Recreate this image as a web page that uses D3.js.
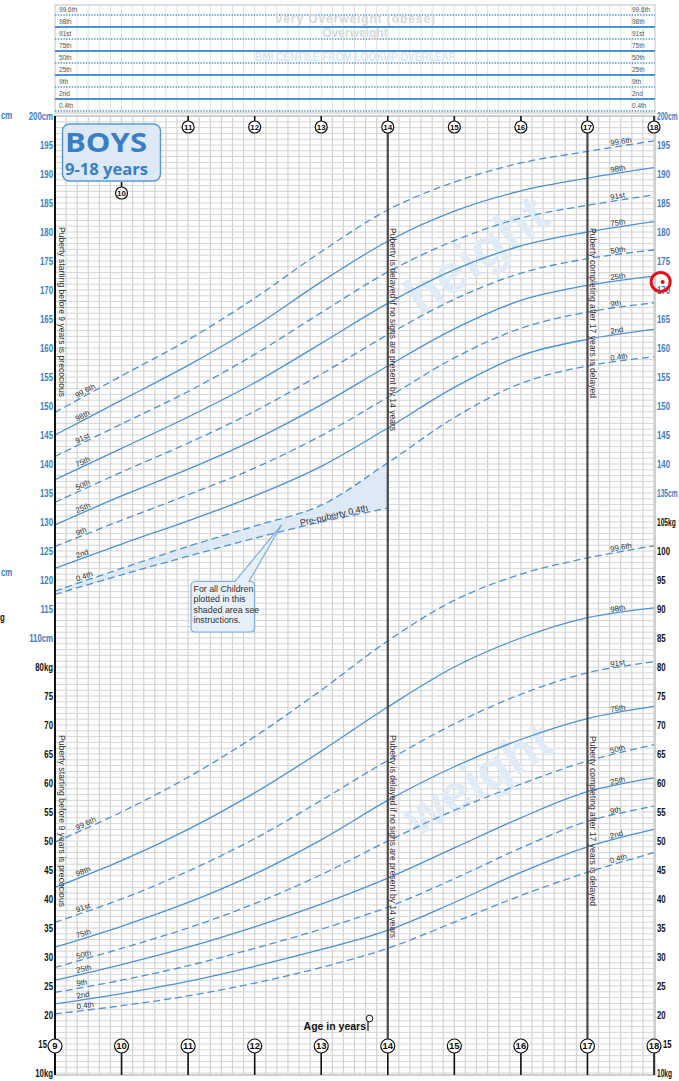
<!DOCTYPE html>
<html>
<head>
<meta charset="utf-8">
<script src="https://cdn.jsdelivr.net/npm/d3@7"></script>
<style>
  body { margin: 0; background: #fff; }
  svg { display: block; font-family: "Liberation Sans", Arial, sans-serif; }
  .ax text { font-family: "Liberation Sans", Arial, sans-serif; font-weight: bold; font-size: 10px; }
</style>
</head>
<body>
<svg id="chart" width="679" height="1081"></svg>
<script>
// ---- data ----
var ages = [9, 10, 11, 12, 13, 14, 15, 16, 17, 18];
var centileNames = ["0.4th", "2nd", "9th", "25th", "50th", "75th", "91st", "98th", "99.6th"];

// height centiles (cm)
var ht_0_4  = [118.1, 122.0, 125.8, 129.3, 132.9, 140.2, 148.0, 153.9, 156.9, 158.5];
var ht_2    = [122.0, 126.2, 130.2, 134.5, 139.6, 146.2, 153.2, 158.7, 161.5, 163.2];
var ht_9    = [125.8, 130.3, 134.7, 139.3, 144.9, 151.5, 158.3, 163.4, 166.2, 167.8];
var ht_25   = [129.5, 134.5, 139.1, 144.2, 150.2, 156.9, 163.3, 168.2, 170.8, 172.4];
var ht_50   = [133.4, 138.6, 143.6, 149.1, 155.5, 162.3, 168.4, 172.9, 175.4, 176.9];
var ht_75   = [137.3, 142.7, 148.1, 154.0, 160.8, 167.7, 173.5, 177.6, 180.0, 181.8];
var ht_91   = [141.3, 146.9, 152.5, 158.9, 166.1, 173.1, 178.5, 182.4, 184.6, 186.4];
var ht_98   = [145.0, 151.0, 157.0, 163.7, 171.4, 178.4, 183.6, 187.1, 189.3, 191.1];
var ht_99_6 = [148.9, 155.2, 161.4, 168.6, 176.6, 183.8, 188.6, 191.9, 193.9, 195.7];

// weight centiles (kg)
var wt_0_4  = [20.2, 21.6, 23.3, 25.5, 28.2, 31.5, 36.0, 40.6, 44.6, 48.0];
var wt_2    = [21.9, 23.7, 25.8, 28.4, 31.3, 34.6, 39.4, 44.6, 49.0, 52.0];
var wt_9    = [23.9, 26.0, 28.5, 31.5, 34.8, 38.6, 43.5, 48.8, 53.4, 56.0];
var wt_25   = [26.0, 28.7, 31.7, 35.2, 39.1, 43.6, 48.8, 54.0, 58.5, 60.9];
var wt_50   = [28.2, 31.5, 35.0, 39.2, 44.2, 50.0, 55.3, 59.8, 63.8, 66.6];
var wt_75   = [31.7, 35.3, 39.4, 44.3, 50.2, 57.0, 62.8, 67.5, 71.1, 73.2];
var wt_91   = [36.0, 40.0, 44.8, 50.4, 57.0, 63.9, 70.2, 75.3, 79.0, 80.9];
var wt_98   = [42.0, 46.6, 52.0, 58.3, 65.5, 73.1, 80.0, 85.0, 88.5, 90.2];
var wt_99_6 = [49.8, 55.0, 61.0, 68.0, 76.0, 84.5, 91.5, 96.0, 98.8, 100.9];

// pre-puberty 0.4th height line
var prePubertyAges = [9, 10, 11, 12, 13, 14];
var prePuberty_0_4 = [117.5, 120.9, 124.1, 127.2, 130.0, 132.4];

// tick labels
var heightTicksLeft  = [110, 115, 120, 125, 130, 135, 140, 145, 150, 155, 160, 165, 170, 175, 180, 185, 190, 195, 200];
var heightTicksRight = [135, 140, 145, 150, 155, 160, 165, 170, 175, 180, 185, 190, 195, 200];
var weightTicksLeft  = [10, 15, 20, 25, 30, 35, 40, 45, 50, 55, 60, 65, 70, 75, 80];
var weightTicksRight = [10, 15, 20, 25, 30, 35, 40, 45, 50, 55, 60, 65, 70, 75, 80, 85, 90, 95, 100, 105];
var topYears = [11, 12, 13, 14, 15, 16, 17, 18];
var bottomYears = [9, 10, 11, 12, 13, 14, 15, 16, 17, 18];

var heightSeries = [ht_0_4, ht_2, ht_9, ht_25, ht_50, ht_75, ht_91, ht_98, ht_99_6];
var weightSeries = [wt_0_4, wt_2, wt_9, wt_25, wt_50, wt_75, wt_91, wt_98, wt_99_6];

// ---- scales ----
var svg = d3.select("#chart");
var x = d3.scaleLinear().domain([9, 18]).range([55, 654]);
var yH = d3.scaleLinear().domain([35, 200]).range([1073, 116]);
var yW = d3.scaleLinear().domain([10, 175]).range([1073, 116]);
var blue = "#4d92d3";
var labBlue = "#3b80c6";

// squeeze text to look like the condensed face on the chart
function condense(sel, k) {
    sel.each(function () {
        var w = this.getComputedTextLength();
        d3.select(this).attr("textLength", w * k).attr("lengthAdjust", "spacingAndGlyphs");
    });
}

// ---- grid ----
var grid = svg.append("g");
grid.selectAll("line.gh").data(d3.range(35, 201)).join("line").attr("class", "gh")
    .attr("x1", 55).attr("x2", 655)
    .attr("y1", d => yH(d)).attr("y2", d => yH(d))
    .attr("stroke", "#d6d6d6").attr("stroke-width", 1);
grid.selectAll("line.gv").data(d3.range(0, 55)).join("line").attr("class", "gv")
    .attr("x1", d => x(9 + d / 6)).attr("x2", d => x(9 + d / 6))
    .attr("y1", 116).attr("y2", 1075)
    .attr("stroke", "#d3d3d3").attr("stroke-width", 1.2);
svg.append("rect").attr("x", 55).attr("y", 116).attr("width", 600).attr("height", 959)
    .attr("fill", "none").attr("stroke", "#cfcfcf").attr("stroke-width", 2);

// ---- BMI strip ----
var strip = svg.append("g");
strip.append("rect").attr("x", 55).attr("y", 5).attr("width", 600).attr("height", 108)
    .attr("fill", "#fff").attr("stroke", "#d6d6d6").attr("stroke-width", 1.5);
strip.selectAll("line.sv").data(d3.range(1, 54)).join("line").attr("class", "sv")
    .attr("x1", d => x(9 + d / 6)).attr("x2", d => x(9 + d / 6))
    .attr("y1", 5).attr("y2", 113)
    .attr("stroke", "#e2e2e2").attr("stroke-width", 1);
var sy = d3.scalePoint().domain(centileNames.slice().reverse()).range([15, 111]);
centileNames.forEach(function (c, i) {
    var solid = i % 2 === 1;
    strip.append("line").attr("x1", 55).attr("x2", 655).attr("y1", sy(c)).attr("y2", sy(c))
        .attr("stroke", blue).attr("stroke-width", solid ? 2 : 1.3)
        .attr("stroke-dasharray", solid ? null : "1.4,1.4");
    strip.append("text").attr("x", 59).attr("y", sy(c) - 3).text(c)
        .attr("font-size", 6.5).attr("fill", "#555");
    strip.append("text").attr("x", 632).attr("y", sy(c) - 3).text(c)
        .attr("font-size", 6.5).attr("fill", "#555");
});
strip.append("text").attr("x", 355).attr("y", 23).attr("text-anchor", "middle")
    .attr("font-size", 12).attr("font-weight", "bold").attr("fill", "#d9d9d9")
    .attr("textLength", 160).text("Very Overweight (obese)");
strip.append("text").attr("x", 355).attr("y", 37).attr("text-anchor", "middle")
    .attr("font-size", 12).attr("font-weight", "bold").attr("fill", "#d9d9d9")
    .text("Overweight");
strip.append("text").attr("x", 355).attr("y", 61).attr("text-anchor", "middle")
    .attr("font-size", 12).attr("font-weight", "bold").attr("fill", "#dbe7f4")
    .attr("textLength", 200).attr("lengthAdjust", "spacingAndGlyphs")
    .text("BMI CENTILE FROM LOOKUP OVERLEAF");

// ---- watermarks ----
svg.append("text").attr("transform", "translate(487,270) rotate(-36)")
    .attr("text-anchor", "middle").attr("font-size", 54).attr("font-weight", "bold")
    .attr("fill", "#e1ebf6").text("height");
svg.append("text").attr("transform", "translate(487,794) rotate(-32)")
    .attr("text-anchor", "middle").attr("font-size", 52).attr("font-weight", "bold")
    .attr("fill", "#e1ebf6").text("weight");

// ---- pre-puberty shaded area ----
var ppData = prePubertyAges.map((a, i) => [a, prePuberty_0_4[i], ht_0_4[i]]);
var area = d3.area().x(d => x(d[0])).y0(d => yH(d[1])).y1(d => yH(d[2])).curve(d3.curveCatmullRom);
svg.append("path").datum(ppData).attr("d", area).attr("fill", "#dde9f5");
var line = d3.line().x(d => x(d[0])).y(d => d[1]).curve(d3.curveCatmullRom);
svg.append("path").datum(ppData.map(d => [d[0], yH(d[1])])).attr("d", line)
    .attr("fill", "none").attr("stroke", blue).attr("stroke-width", 1.3).attr("stroke-dasharray", "7,4");

// ---- centile curves ----
function drawCurves(series, yScale) {
    var g = svg.append("g");
    series.forEach(function (vals, i) {
        var pts = ages.map((a, j) => [a, yScale(vals[j])]);
        g.append("path").datum(pts).attr("d", line)
            .attr("fill", "none").attr("stroke", blue).attr("stroke-width", 1.3)
            .attr("stroke-dasharray", i % 2 === 0 ? "7,4" : null);
        // left label
        var aL = 9.33, fL = aL - 9;
        var yL = yScale(vals[0] + (vals[1] - vals[0]) * fL);
        var angL = Math.atan2(yScale(vals[1]) - yScale(vals[0]), x(10) - x(9)) * 180 / Math.PI;
        g.append("text").attr("transform", "translate(" + x(aL) + "," + (yL - 2) + ") rotate(" + angL + ")")
            .attr("font-size", 7.8).attr("fill", "#333").text(centileNames[i]);
        // right label
        var aR = 17.35, fR = aR - 17;
        var yR = yScale(vals[8] + (vals[9] - vals[8]) * fR);
        var angR = Math.atan2(yScale(vals[9]) - yScale(vals[8]), x(18) - x(17)) * 180 / Math.PI;
        g.append("text").attr("transform", "translate(" + x(aR) + "," + (yR - 2) + ") rotate(" + angR + ")")
            .attr("font-size", 7.8).attr("fill", "#333").text(centileNames[i]);
    });
}
drawCurves(heightSeries, yH);
drawCurves(weightSeries, yW);

// pre-puberty label
var angPP = Math.atan2(yH(prePuberty_0_4[5]) - yH(prePuberty_0_4[3]), x(14) - x(12)) * 180 / Math.PI;
svg.append("text")
    .attr("transform", "translate(" + x(13.2) + "," + (yH(prePuberty_0_4[4] + 0.3) - 2) + ") rotate(" + angPP + ")")
    .attr("text-anchor", "middle").attr("font-size", 9).attr("fill", "#333").text("Pre-puberty 0.4th");

// ---- puberty lines at 14 and 17 ----
[14, 17].forEach(function (a) {
    svg.append("line").attr("x1", x(a)).attr("x2", x(a)).attr("y1", 133).attr("y2", 1039)
        .attr("stroke", "#4a4a4a").attr("stroke-width", 2.2);
});
svg.append("line").attr("x1", 55).attr("x2", 55).attr("y1", 116).attr("y2", 1075)
    .attr("stroke", "#111").attr("stroke-width", 2);

// ---- vertical notes ----
function vnote(xp, y0, len, txt) {
    svg.append("text").attr("transform", "translate(" + xp + "," + y0 + ") rotate(90)")
        .attr("font-size", 8.5).attr("fill", "#333")
        .attr("textLength", len).attr("lengthAdjust", "spacing").text(txt);
}
vnote(58.5, 227, 170, "Puberty starting before 9 years is precocious");
vnote(58.5, 735, 172, "Puberty starting before 9 years is precocious");
vnote(x(14) + 2.5, 228, 203, "Puberty is delayed if no signs are present by 14 years");
vnote(x(14) + 2.5, 735, 203, "Puberty is delayed if no signs are present by 14 years");
vnote(x(17) + 2.5, 228, 170, "Puberty completing after 17 years is delayed");
vnote(x(17) + 2.5, 736, 170, "Puberty completing after 17 years is delayed");

// ---- axes ----
function fmt(unit, top, bottom) {
    return d => (d === top || d === bottom) ? d + unit : d;
}
var axL1 = svg.append("g").attr("class", "ax").attr("transform", "translate(53,0)")
    .call(d3.axisLeft(yH).tickValues(heightTicksLeft).tickSize(0).tickPadding(0).tickFormat(fmt("cm", 200, 110)));
axL1.selectAll("text").attr("fill", labBlue);
var axL2 = svg.append("g").attr("class", "ax").attr("transform", "translate(53,0)")
    .call(d3.axisLeft(yW).tickValues(weightTicksLeft).tickSize(0).tickPadding(0).tickFormat(fmt("kg", 80, 10)));
axL2.selectAll("text").attr("fill", "#111");
axL2.selectAll(".tick").filter(d => d === 15).select("text").attr("x", -6);
var axR1 = svg.append("g").attr("class", "ax axr").attr("transform", "translate(657,0)")
    .call(d3.axisRight(yH).tickValues(heightTicksRight).tickSize(0).tickPadding(0).tickFormat(fmt("cm", 200, 135)));
axR1.selectAll("text").attr("fill", labBlue);
var axR2 = svg.append("g").attr("class", "ax axr").attr("transform", "translate(657,0)")
    .call(d3.axisRight(yW).tickValues(weightTicksRight).tickSize(0).tickPadding(0).tickFormat(fmt("kg", 105, 10)));
axR2.selectAll("text").attr("fill", "#111");
axR2.selectAll(".tick").filter(d => d === 15).select("text").attr("x", 6);
svg.selectAll(".ax .domain").remove();
// condensed look: scale the glyphs horizontally around each tick's anchor
svg.selectAll(".ax .tick text").each(function () {
    var t = d3.select(this), x0 = +t.attr("x") || 0;
    var unit = /[a-z]/.test(this.textContent) && this.closest(".axr");
    var k = unit ? 0.66 : 0.78;
    t.attr("x", x0 / k).attr("transform", "scale(" + k + ",1)");
});

// clipped labels from the facing page
var edge = svg.append("g").attr("class", "ax");
edge.append("text").attr("x", 1).attr("y", 119).attr("fill", labBlue).text("cm");
edge.append("text").attr("x", 1).attr("y", 576).attr("fill", labBlue).text("cm");
edge.append("text").attr("x", 0).attr("y", 621).attr("fill", "#111").text("g");
condense(edge.selectAll("text"), 0.78);

// ---- year markers ----
function marker(a, cy, r, stemY0, stemY1, fs) {
    svg.append("line").attr("x1", x(a)).attr("x2", x(a)).attr("y1", stemY0).attr("y2", stemY1)
        .attr("stroke", "#111").attr("stroke-width", 1.6);
    svg.append("circle").attr("cx", x(a)).attr("cy", cy).attr("r", r)
        .attr("fill", "#fff").attr("stroke", "#111").attr("stroke-width", 1.2);
    svg.append("text").attr("x", x(a)).attr("y", cy + fs * 0.36).attr("text-anchor", "middle")
        .attr("font-size", fs).attr("font-weight", "bold").attr("fill", "#111").text(a);
}
topYears.forEach(a => marker(a, 127, 6, 116, 121, 8));
marker(10, 193, 6, 182, 187, 8);
bottomYears.forEach(a => marker(a, 1046, 7, 1053, 1075, 9.5));

// age in years
svg.append("text").attr("x", 366).attr("y", 1030).attr("text-anchor", "end")
    .attr("font-size", 10.5).attr("font-weight", "bold").attr("fill", "#111").text("Age in years");
svg.append("line").attr("x1", 368).attr("x2", 368).attr("y1", 1021).attr("y2", 1031)
    .attr("stroke", "#111").attr("stroke-width", 1.2);
svg.append("circle").attr("cx", 369.5).attr("cy", 1018.5).attr("r", 3.3)
    .attr("fill", "#fff").attr("stroke", "#111").attr("stroke-width", 1);

// ---- title box ----
svg.append("rect").attr("x", 62.5).attr("y", 124).attr("width", 98).attr("height", 57).attr("rx", 7)
    .attr("fill", "#dde9f6").attr("stroke", "#5b9bd5").attr("stroke-width", 1.5);
svg.append("text").attr("x", 65).attr("y", 152).attr("font-size", 26).attr("font-weight", "bold")
    .attr("fill", "#3a7fc4").attr("font-family", "Open Sans, sans-serif")
    .attr("textLength", 82).attr("lengthAdjust", "spacingAndGlyphs").text("BOYS");
svg.append("text").attr("x", 65).attr("y", 175).attr("font-size", 16).attr("font-weight", "bold")
    .attr("fill", "#3a7fc4").attr("font-family", "Open Sans, sans-serif")
    .attr("textLength", 83).attr("lengthAdjust", "spacingAndGlyphs").text("9-18 years");

// ---- callout ----
svg.append("path")
    .attr("d", "M196,581.5 L235,581.5 L281.5,525 L249,581.5 L250.5,581.5 Q254.5,581.5 254.5,585.5 L254.5,628 Q254.5,632 250.5,632 L195,632 Q191,632 191,628 L191,585.5 Q191,581.5 196,581.5 Z")
    .attr("fill", "#e7f0f9").attr("stroke", "#7eafdd").attr("stroke-width", 1.2);
["For all Children", "plotted in this", "shaded area see", "instructions."].forEach(function (t, i) {
    svg.append("text").attr("x", 193.5).attr("y", 592 + i * 10.3).attr("font-size", 9.6)
        .attr("fill", "#333").text(t);
});
condense(svg.selectAll("text").filter(function () { return +d3.select(this).attr("font-size") === 9.6; }), 0.92);

// ---- hand-drawn red mark ----
svg.append("circle").attr("cx", x(18.1)).attr("cy", yH(171.4)).attr("r", 9.5)
    .attr("fill", "none").attr("stroke", "#e3101b").attr("stroke-width", 3);
svg.append("circle").attr("cx", x(18.13)).attr("cy", yH(171.4)).attr("r", 2)
    .attr("fill", "#e3101b");
</script>
</body>
</html>
